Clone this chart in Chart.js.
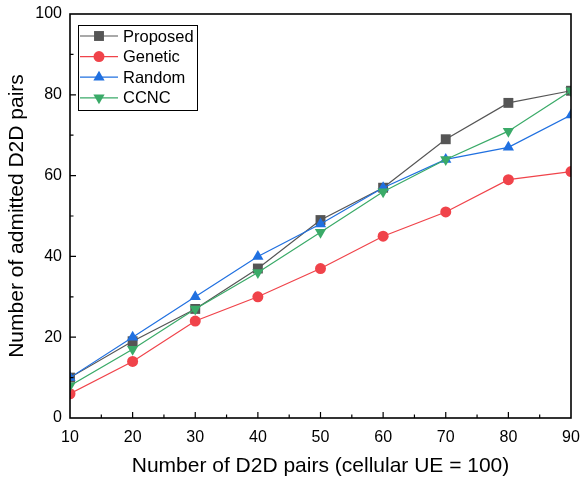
<!DOCTYPE html>
<html>
<head>
<meta charset="utf-8">
<script src="https://cdn.jsdelivr.net/npm/chart.js@4"></script>
<style>
  html, body { margin: 0; padding: 0; background: #fff; }
  #wrap { width: 582px; height: 480px; }
</style>
</head>
<body>
<div id="wrap"><canvas id="chart"></canvas></div>
<script>
const pairs = [10, 20, 30, 40, 50, 60, 70, 80, 90];
const proposed = [10, 19, 27, 37, 49, 57, 69, 78, 81];
const genetic = [6, 14, 24, 30, 37, 45, 51, 59, 61];
const random = [10, 20, 30, 40, 48, 57, 64, 67, 75];
const ccnc = [8, 17, 27, 36, 46, 56, 64, 71, 81];

const seriesNames = ["Proposed", "Genetic", "Random", "CCNC"];
const FONT = "Arial, 'Liberation Sans', sans-serif";

function points(ys) {
  return pairs.map((x, i) => ({ x, y: ys[i] }));
}

const styles = [
  { line: "#555555", fill: "#555555", pointStyle: "rect", radius: 7, rotation: 0 },
  { line: "#f0434a", fill: "#f0434a", pointStyle: "circle", radius: 5.5, rotation: 0 },
  { line: "#2070e0", fill: "#2070e0", pointStyle: "triangle", radius: 6.5, rotation: 0 },
  { line: "#3aaa68", fill: "#3aaa68", pointStyle: "triangle", radius: 6.5, rotation: 180 },
];

const values = [proposed, genetic, random, ccnc];

const datasets = values.map((ys, i) => ({
  label: seriesNames[i],
  data: points(ys),
  borderColor: styles[i].line,
  backgroundColor: styles[i].fill,
  pointBackgroundColor: styles[i].fill,
  pointBorderColor: styles[i].fill,
  pointBorderWidth: 0,
  borderWidth: 1.2,
  pointStyle: styles[i].pointStyle,
  pointRadius: styles[i].radius,
  pointRotation: styles[i].rotation,
  order: 4 - i,
}));

// frame, inward ticks and legend box
const decorations = {
  id: "decorations",
  afterDatasetsDraw(chart) {
    const { ctx, chartArea: a, scales } = chart;
    ctx.save();
    ctx.strokeStyle = "#000";
    ctx.lineWidth = 1.6;
    ctx.strokeRect(a.left, a.top, a.right - a.left, a.bottom - a.top);

    ctx.lineWidth = 1.2;
    ctx.beginPath();
    for (let v = 15; v < 90; v += 5) {
      const x = scales.x.getPixelForValue(v);
      const len = v % 10 === 0 ? 6 : 3.5;
      ctx.moveTo(x, a.bottom);
      ctx.lineTo(x, a.bottom - len);
    }
    for (let v = 10; v < 100; v += 10) {
      const y = scales.y.getPixelForValue(v);
      const len = v % 20 === 0 ? 6 : 3.5;
      ctx.moveTo(a.left, y);
      ctx.lineTo(a.left + len, y);
    }
    ctx.stroke();

    // legend
    const bx = 78, by = 25, bw = 119, bh = 85;
    ctx.fillStyle = "#fff";
    ctx.fillRect(bx, by, bw, bh);
    ctx.lineWidth = 1;
    ctx.strokeStyle = "#000";
    ctx.strokeRect(bx + 0.5, by + 0.5, bw, bh);
    ctx.font = "16.5px " + FONT;
    ctx.textBaseline = "middle";
    seriesNames.forEach((name, i) => {
      const y = 36 + i * 20.6;
      const s = styles[i];
      ctx.strokeStyle = s.line;
      ctx.lineWidth = 1.2;
      ctx.beginPath();
      ctx.moveTo(80, y);
      ctx.lineTo(118, y);
      ctx.stroke();
      ctx.fillStyle = s.fill;
      Chart.helpers.drawPoint(ctx, {
        pointStyle: s.pointStyle, radius: s.radius, rotation: s.rotation, borderWidth: 0,
      }, 99, y);
      ctx.fillStyle = "#000";
      ctx.fillText(name, 123, y + 1);
    });
    ctx.restore();
  },
};

new Chart(document.getElementById("chart"), {
  type: "line",
  data: { datasets },
  options: {
    responsive: true,
    maintainAspectRatio: false,
    animation: false,
    layout: { padding: { top: 14, right: 11, left: 0, bottom: 0 } },
    plugins: { legend: { display: false }, tooltip: { enabled: false } },
    scales: {
      x: {
        type: "linear",
        min: 10,
        max: 90,
        ticks: { stepSize: 10, color: "#000", font: { family: FONT, size: 16 }, padding: 10 },
        grid: { display: false, drawTicks: false },
        border: { display: false },
        title: {
          display: true,
          text: "Number of D2D pairs (cellular UE = 100)",
          color: "#000",
          font: { family: FONT, size: 21 },
          padding: { top: 0, bottom: 1 },
        },
        afterFit(scale) {
          scale.height = 62;
          scale.paddingLeft = 0;
          scale.paddingRight = 0;
        },
      },
      y: {
        min: 0,
        max: 100,
        ticks: { stepSize: 20, color: "#000", font: { family: FONT, size: 16 }, padding: 8 },
        grid: { display: false, drawTicks: false },
        border: { display: false },
        title: {
          display: true,
          text: "Number of admitted D2D pairs",
          color: "#000",
          font: { family: FONT, size: 21 },
          padding: { top: 5, bottom: 0 },
        },
        afterFit(scale) {
          scale.width = 70;
          scale.paddingTop = 0;
          scale.paddingBottom = 0;
        },
      },
    },
  },
  plugins: [decorations],
});
</script>
</body>
</html>
